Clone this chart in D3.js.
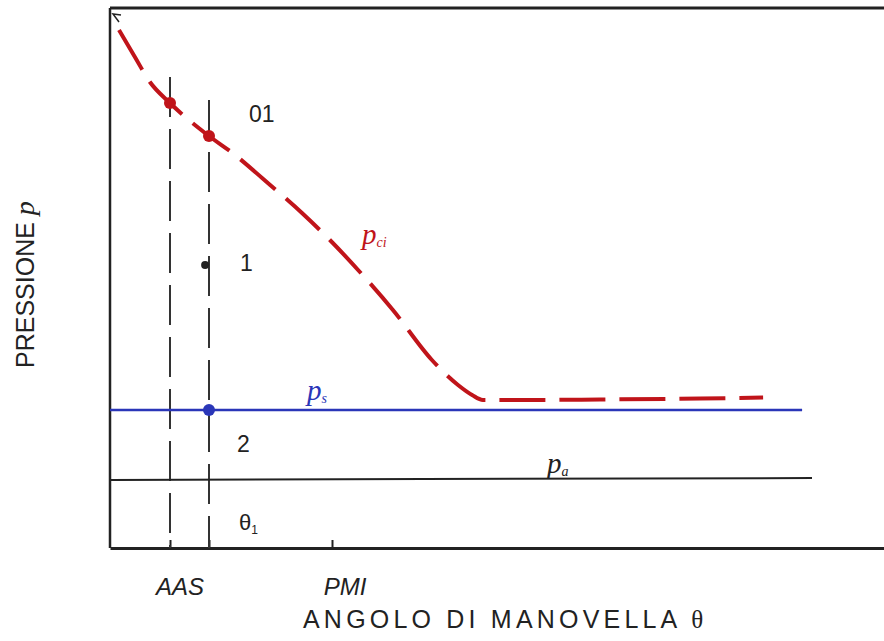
<!DOCTYPE html>
<html>
<head>
<meta charset="utf-8">
<title>Pressione - angolo di manovella</title>
<script src="https://cdn.jsdelivr.net/npm/d3@7"></script>
<style>
  body { margin: 0; background: #fff; }
  text { font-family: "Liberation Sans", Arial, sans-serif; fill: #222; }
  .math { font-family: "Liberation Serif", "DejaVu Serif", serif; font-style: italic; }
</style>
</head>
<body>
<div id="chart"></div>
<script>
// crank angle (deg) and pressure (arbitrary units)
var curveTheta = [109, 114.3, 119.3, 126, 139, 147.7, 156.7, 170, 179.3, 189.3, 200.3, 213.3, 222, 226.7, 230.3, 245.3, 269.3, 302.7, 323.7];
var curveP     = [5.18, 4.91, 4.66, 4.45, 4.12, 3.93, 3.70, 3.35, 3.08, 2.76, 2.38, 1.88, 1.63, 1.53, 1.48, 1.48, 1.485, 1.495, 1.505];

var pS = 1.38, pA = 0.68;          // scavenging / ambient pressure
var pSEnd = 336.7, pAEnd = 340;    // where the two horizontal lines end
var thetaAAS = 126, theta1 = 139, thetaPMI = 180;
var vTop = [4.71, 4.48];           // top of the two dashed verticals
var tickValues = [thetaAAS, theta1, thetaPMI];

var redPoints = [{t: thetaAAS, p: 4.45}, {t: theta1, p: 4.12}];
var blackPoint = {t: 137.7, p: 2.83};
var bluePoint = {t: theta1, p: pS};

var W = 884, H = 641;
var mLeft = 110, mRight = 884, mTop = 8, mBottom = 548;

var x = d3.scaleLinear().domain([106, 364]).range([mLeft, mRight]);
var y = d3.scaleLinear().domain([0, 5.4]).range([mBottom, mTop]);

var red = "#c0141a", blue = "#2a36b8", ink = "#222";

var svg = d3.select("#chart").append("svg")
  .attr("width", W).attr("height", H);

// frame: left, top, bottom
svg.append("line").attr("x1", mLeft).attr("x2", mLeft).attr("y1", mTop).attr("y2", mBottom)
  .attr("stroke", ink).attr("stroke-width", 2.5);
svg.append("line").attr("x1", mLeft).attr("x2", mRight).attr("y1", mTop).attr("y2", mTop)
  .attr("stroke", ink).attr("stroke-width", 3);
// little arrow head at the top of the pressure axis
svg.append("path").attr("d", "M119,22 L113,14 L121,15")
  .attr("fill", "none").attr("stroke", ink).attr("stroke-width", 1.5);

var xAxis = d3.axisBottom(x).tickValues(tickValues).tickFormat("")
  .tickSizeInner(-8).tickSizeOuter(0);
var gx = svg.append("g").attr("transform", "translate(0," + mBottom + ")").call(xAxis);
gx.select(".domain").attr("stroke", ink).attr("stroke-width", 3);
gx.selectAll(".tick line").attr("stroke", ink).attr("stroke-width", 2);

// dashed verticals
[thetaAAS, theta1].forEach(function(t, i) {
  svg.append("line")
    .attr("x1", x(t)).attr("x2", x(t))
    .attr("y1", y(vTop[i])).attr("y2", mBottom)
    .attr("stroke", "#333").attr("stroke-width", 2)
    .attr("stroke-dasharray", "40,12");
});

// ambient and scavenging pressure lines
svg.append("line").attr("x1", mLeft).attr("x2", x(pAEnd))
  .attr("y1", y(pA)).attr("y2", y(pA) - 2)
  .attr("stroke", ink).attr("stroke-width", 2);
svg.append("line").attr("x1", mLeft).attr("x2", x(pSEnd))
  .attr("y1", y(pS)).attr("y2", y(pS))
  .attr("stroke", blue).attr("stroke-width", 2.5);

// cylinder pressure curve
var line = d3.line()
  .x(function(d, i) { return x(curveTheta[i]); })
  .y(function(d) { return y(d); })
  .curve(d3.curveMonotoneX);
svg.append("path").datum(curveP)
  .attr("d", line)
  .attr("fill", "none").attr("stroke", red).attr("stroke-width", 4)
  .attr("stroke-dasharray", "46,14");

// points
svg.selectAll("circle.red").data(redPoints).enter().append("circle")
  .attr("cx", function(d) { return x(d.t); })
  .attr("cy", function(d) { return y(d.p); })
  .attr("r", 6).attr("fill", red);
svg.append("circle").attr("cx", x(blackPoint.t)).attr("cy", y(blackPoint.p))
  .attr("r", 4).attr("fill", ink);
svg.append("circle").attr("cx", x(bluePoint.t)).attr("cy", y(bluePoint.p))
  .attr("r", 6).attr("fill", blue);

// state labels
function label(tx, ty, s, size) {
  return svg.append("text").attr("x", tx).attr("y", ty)
    .attr("font-size", size || 23).text(s);
}
label(249, 122, "01");
label(240, 271, "1");
label(237, 452, "2");
var th = label(239, 530, "θ", 22);
th.append("tspan").attr("font-size", 12).attr("dy", 4).text("1");

// math labels
function mathLabel(tx, ty, sub, col) {
  var t = svg.append("text").attr("class", "math")
    .attr("x", tx).attr("y", ty).attr("font-size", 29).style("fill", col);
  t.append("tspan").text("p");
  t.append("tspan").attr("font-size", 14).attr("dy", 3).text(sub);
}
mathLabel(362, 244, "ci", red);
mathLabel(307, 400, "s", blue);
mathLabel(547, 473, "a", ink);

// axis titles
svg.append("text").attr("x", x(thetaAAS) + 10).attr("y", 595)
  .attr("text-anchor", "middle").attr("font-size", 24)
  .style("font-style", "italic").text("AAS");
svg.append("text").attr("x", x(thetaPMI) + 13).attr("y", 595)
  .attr("text-anchor", "middle").attr("font-size", 24)
  .style("font-style", "italic").text("PMI");

var xt = svg.append("text").attr("x", 303).attr("y", 628)
  .attr("font-size", 25).attr("letter-spacing", 4.2);
xt.append("tspan").text("ANGOLO DI MANOVELLA ");
xt.append("tspan").attr("font-family", "Liberation Serif, serif").text("θ");

var yt = svg.append("text")
  .attr("transform", "translate(34,368) rotate(-90)")
  .attr("font-size", 25);
yt.append("tspan").text("PRESSIONE ");
yt.append("tspan").attr("class", "math").attr("font-size", 28).text("p");
</script>
</body>
</html>
